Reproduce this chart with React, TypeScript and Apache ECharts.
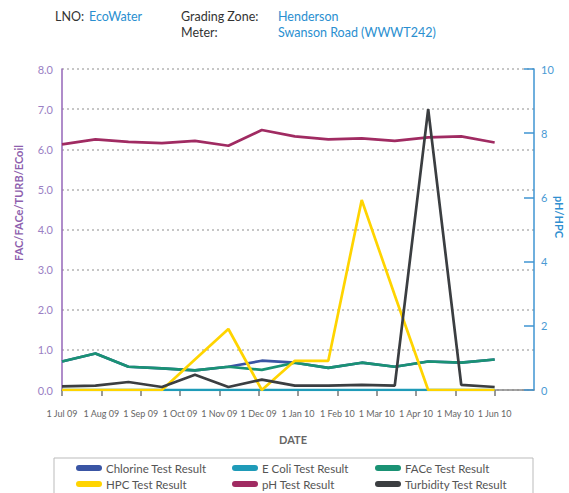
import React, { useEffect, useRef } from "react";
import * as echarts from "echarts";

const monthLabels = [
  "1 Jul 09", "1 Aug 09", "1 Sep 09", "1 Oct 09", "1 Nov 09", "1 Dec 09",
  "1 Jan 10", "1 Feb 10", "1 Mar 10", "1 Apr 10", "1 May 10", "1 Jun 10",
];
// sample positions in months since 1 Jul 09
const sampleMonths = [0, 0.85, 1.69, 2.54, 3.38, 4.23, 5.08, 5.92, 6.77, 7.62, 8.46, 9.31, 10.15, 11];

const chlorine = [0.71, 0.91, 0.58, 0.54, 0.49, 0.58, 0.73, 0.68, 0.55, 0.68, 0.58, 0.71, 0.68, 0.76];
const eColi = [0, 0, 0, 0, 0, 0, 0, 0, 0, 0, 0, 0, 0, 0];
const face = [0.71, 0.91, 0.58, 0.54, 0.49, 0.58, 0.5, 0.68, 0.55, 0.68, 0.58, 0.71, 0.68, 0.76];
const hpc = [0, 0, 0, 0, 0.95, 1.9, 0, 0.91, 0.91, 5.92, 2.95, 0, 0, 0];
const ph = [7.65, 7.81, 7.73, 7.69, 7.76, 7.61, 8.1, 7.9, 7.81, 7.84, 7.76, 7.87, 7.9, 7.71];
const turbidity = [0.09, 0.11, 0.2, 0.075, 0.38, 0.075, 0.26, 0.11, 0.11, 0.13, 0.11, 7.0, 0.13, 0.075];

const leftTicks = [0, 1, 2, 3, 4, 5, 6, 7, 8];
const rightTicks = [0, 2, 4, 6, 8, 10];

const seriesNames = [
  "Chlorine Test Result", "E Coli Test Result", "FACe Test Result",
  "HPC Test Result", "pH Test Result", "Turbidity Test Result",
];
const seriesColors = ["#3a55a4", "#1f9bb8", "#1a9274", "#ffd400", "#a02b62", "#3b3e41"];

const FONT = "Lato, 'DejaVu Sans', sans-serif";
const PILL = "path://M3,0 L23,0 A3,3 0 0 1 23,6 L3,6 A3,3 0 0 1 3,0 Z";

const zip = (vals: number[]) => sampleMonths.map((m, i) => [m, vals[i]]);

export default function App() {
  const ref = useRef<HTMLDivElement>(null);
  useEffect(() => {
    if (!ref.current) return;
    const chart = echarts.init(ref.current, null, { renderer: "svg" });
    const mkSeries = (idx: number, data: number[], yAxisIndex: number) => ({
      name: seriesNames[idx],
      type: "line",
      yAxisIndex,
      data: zip(data),
      symbol: "none",
      lineStyle: { color: seriesColors[idx], width: 2.7 },
      itemStyle: { color: seriesColors[idx] },
      z: 3,
    });
    const legendLefts = [76, 232, 375];
    const legendTops = [462, 478];
    const legends = seriesNames.map((name, i) => ({
      orient: "horizontal",
      left: legendLefts[i % 3],
      top: legendTops[Math.floor(i / 3)],
      padding: 0,
      itemWidth: 26,
      itemHeight: 6,
      itemGap: 0,
      icon: PILL,
      selectedMode: false,
      data: [name],
      textStyle: { fontSize: 11.5, color: "#555", fontFamily: FONT, lineHeight: 12, padding: [0, 0, 0, -1] },
    }));
    chart.setOption({
      animation: false,
      backgroundColor: "#fff",
      grid: { left: 62, right: 35, top: 69, bottom: 103, containLabel: false },
      xAxis: {
        type: "value",
        min: 0,
        max: 12,
        interval: 1,
        axisLine: { show: true, lineStyle: { color: "#888", width: 1.5 } },
        axisTick: { show: true, length: 6, lineStyle: { color: "#777", width: 1.5 }, customValues: monthLabels.map((_, i) => i) },
        axisLabel: {
          formatter: (v: number) => monthLabels[Math.round(v)] ?? "",
          color: "#666",
          fontSize: 9,
          fontFamily: FONT,
          margin: 19,
          hideOverlap: false,
          showMaxLabel: true,
          showMinLabel: true,
        },
        splitLine: { show: false },
      },
      yAxis: [
        {
          type: "value",
          min: leftTicks[0],
          max: leftTicks[leftTicks.length - 1],
          interval: 1,
          axisLine: { show: true, lineStyle: { color: "#9466b8", width: 1.5 } },
          axisTick: { show: false },
          axisLabel: {
            formatter: (v: number) => v.toFixed(1),
            color: "#9a80c4",
            fontSize: 11,
            fontFamily: FONT,
            margin: 9,
            padding: [0, 0, 5, 0],
          },
          splitLine: { show: true, lineStyle: { color: "#b4b4b4", width: 1.6, type: [2, 3] } },
        },
        {
          type: "value",
          min: rightTicks[0],
          max: rightTicks[rightTicks.length - 1],
          interval: 2,
          position: "right",
          axisLine: { show: true, lineStyle: { color: "#3f94d2", width: 1.5 } },
          axisTick: { show: true, inside: true, length: 10, lineStyle: { color: "#3f94d2", width: 1.5 } },
          axisLabel: {
            color: "#4a9ad4",
            fontSize: 11,
            fontFamily: FONT,
            margin: 7,
            padding: [0, 0, 4, 0],
          },
          splitLine: { show: false },
        },
      ],
      legend: legends,
      series: [
        mkSeries(0, chlorine, 0),
        mkSeries(1, eColi, 0),
        mkSeries(2, face, 0),
        mkSeries(3, hpc, 1),
        mkSeries(4, ph, 1),
        mkSeries(5, turbidity, 0),
      ],
      graphic: [
        { type: "text", left: 55, top: 10, style: { text: "LNO:", fill: "#333", font: `12.5px ${FONT}` } },
        { type: "text", left: 89, top: 10, style: { text: "EcoWater", fill: "#2a8fd0", font: `12.5px ${FONT}` } },
        { type: "text", left: 181, top: 10, style: { text: "Grading Zone:", fill: "#333", font: `12.5px ${FONT}` } },
        { type: "text", left: 278, top: 10, style: { text: "Henderson", fill: "#2a8fd0", font: `12.5px ${FONT}` } },
        { type: "text", left: 181, top: 26, style: { text: "Meter:", fill: "#333", font: `12.5px ${FONT}` } },
        { type: "text", left: 278, top: 26, style: { text: "Swanson Road (WWWT242)", fill: "#2a8fd0", font: `12.5px ${FONT}` } },
        {
          type: "text",
          x: 18,
          y: 203,
          rotation: Math.PI / 2,
          style: {
            text: "FAC/FACe/TURB/ECoil",
            fill: "#8e5fae",
            font: `bold 11px ${FONT}`,
            align: "center",
            verticalAlign: "middle",
          },
        },
        {
          type: "text",
          x: 559,
          y: 217,
          rotation: -Math.PI / 2,
          style: {
            text: "pH/HPC",
            fill: "#2f8fd0",
            font: `bold 11px ${FONT}`,
            align: "center",
            verticalAlign: "middle",
          },
        },
        {
          type: "text",
          x: 293,
          y: 439,
          style: {
            text: "DATE",
            fill: "#666",
            font: `bold 11px ${FONT}`,
            align: "center",
            verticalAlign: "middle",
          },
        },
        {
          type: "rect",
          shape: { x: 54, y: 458, width: 479, height: 45 },
          style: { fill: "none", stroke: "#bbb", lineWidth: 1 },
          z: -1,
        },
      ],
    });
    return () => chart.dispose();
  }, []);
  return (
    <div
      ref={ref}
      style={{ position: "fixed", left: 0, top: 0, width: 569, height: 493 }}
    />
  );
}
